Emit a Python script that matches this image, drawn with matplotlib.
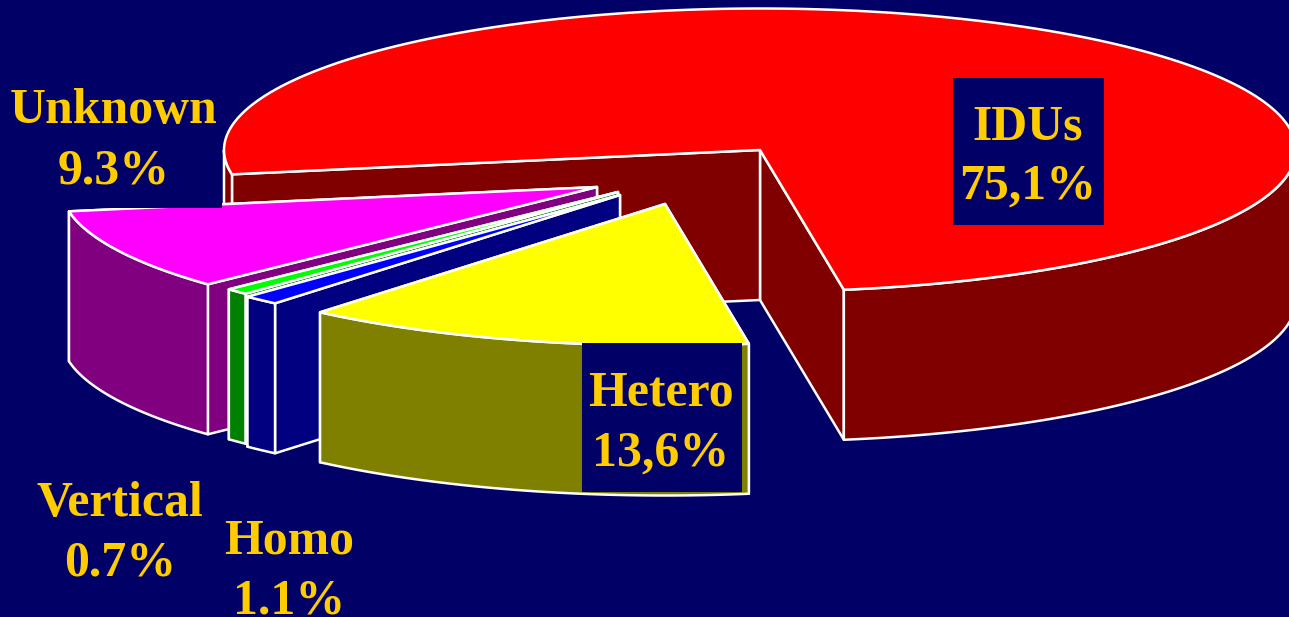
import numpy as np
import matplotlib
matplotlib.use("Agg")
import matplotlib.pyplot as plt
from matplotlib.patches import Polygon, Rectangle

names = ["Hetero", "Homo", "Vertical", "Unknown", "IDUs"]
shares = [13.6, 1.1, 0.7, 9.3, 75.1]
share_labels = ["13,6%", "1.1%", "0.7%", "9.3%", "75,1%"]

BG, INK, EDGE = "#000066", "#FFCC00", "white"
top_col = {"Hetero": "#FFFF00", "Homo": "#0000FF", "Vertical": "#00FF00", "Unknown": "#FF00FF", "IDUs": "#FF0000"}
side_col = {"Hetero": "#808000", "Homo": "#000080", "Vertical": "#008000", "Unknown": "#800080", "IDUs": "#800000"}

# pie geometry, in pixels
RX, RY, DEPTH = 536, 141.5, 150
START = 81
apex = {"Hetero": (665, 204), "Homo": (620, 195), "Vertical": (618, 192), "Unknown": (597, 187), "IDUs": (760, 150)}
label_pos = {"Hetero": (661, 424), "Homo": (289, 571), "Vertical": (120, 534), "Unknown": (114, 141), "IDUs": (1028, 157)}
label_box = {"Hetero": (582, 343, 160, 149), "Unknown": (10, 75, 212, 133), "IDUs": (953, 78, 151, 147)}

fig = plt.figure(figsize=(12.89, 6.17), dpi=100, facecolor=BG)
ax = fig.add_axes([0, 0, 1, 1])
ax.set_xlim(0, 1289); ax.set_ylim(617, 0)
ax.axis("off")


def rim(c, a0, a1):
    t = np.radians(np.linspace(a0, a1, 200))
    return np.column_stack([c[0] + RX * np.cos(t), c[1] + RY * np.sin(t)])


def poly(pts, color, z):
    ax.add_patch(Polygon(pts, closed=True, facecolor=color, edgecolor=EDGE, lw=1.8, joinstyle="round", zorder=z))


def down(pts):
    return pts + np.array([0, DEPTH])


def draw_slice(name, a0, a1, z):
    c = np.array(apex[name], dtype=float)
    # walls, far one first
    for a in (a1, a0):
        p = rim(c, a, a)[0]
        poly(np.array([c, p, p + [0, DEPTH], c + [0, DEPTH]]), side_col[name], z)
    # outer rim, only the part facing us
    for k in range(-1, 2):
        lo, hi = max(a0, 360 * k), min(a1, 360 * k + 180)
        if hi > lo:
            arc = rim(c, lo, hi)
            poly(np.vstack([arc, down(arc)[::-1]]), side_col[name], z + 0.1)
    poly(np.vstack([c, rim(c, a0, a1)]), top_col[name], z + 0.2)


# painter's order: the back slice first, so the front slices go over it
order = ["IDUs", "Unknown", "Vertical", "Homo", "Hetero"]
angles = {}
a = START
for name, s in zip(names, shares):
    span = 360 * s / sum(shares)
    angles[name] = (a, a + span)
    a += span

for i, name in enumerate(order):
    draw_slice(name, angles[name][0], angles[name][1], 2 + i)

for name, share in zip(names, share_labels):
    if name in label_box:
        x, y, w, h = label_box[name]
        ax.add_patch(Rectangle((x, y), w, h, facecolor=BG, edgecolor="none", zorder=10))
    ax.text(label_pos[name][0], label_pos[name][1], name + "\n" + share, ha="center", va="center",
            fontsize=35.8, fontweight="bold", fontfamily="Liberation Serif", color=INK,
            linespacing=1.4, zorder=11)

plt.savefig("out.png", dpi=100, facecolor=BG)
